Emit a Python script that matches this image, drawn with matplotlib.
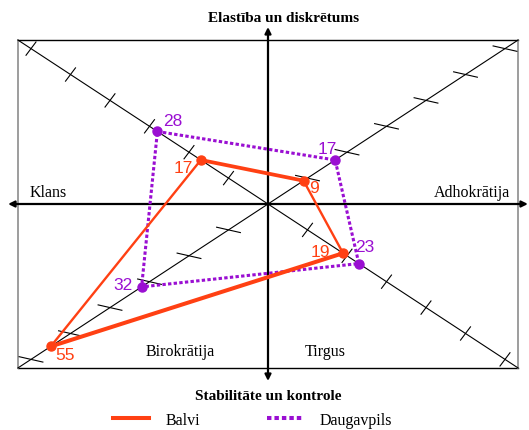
import numpy as np
import matplotlib
matplotlib.use("Agg")
import matplotlib.pyplot as plt
from matplotlib.lines import Line2D

# --- data ---
quadrants = ["Klans", "Adhokrātija", "Tirgus", "Birokrātija"]
balvi = [17, 9, 19, 55]
daugavpils = [28, 17, 23, 32]
scale_ticks = [10, 20, 30, 40, 50, 60]

title_top = "Elastība un diskrētums"
title_bottom = "Stabilitāte un kontrole"

# --- geometry (data units, 1 unit = 1 score point along x) ---
half_w, half_h = 63.3, 41.5
r = half_h / half_w
# direction of each quadrant's diagonal: clan UL, adhocracy UR, market LR, hierarchy LL
dirs = np.array([[-1, r], [1, r], [1, -r], [-1, -r]])

orange = "#FF4013"
purple = "#9A0FD2"
serif = "Liberation Serif"
sans = "Liberation Sans"

px = 3.95  # pixels per unit
fig = plt.figure(figsize=(5.29, 4.31), dpi=100)
ax = fig.add_axes([0, 0, 1, 1])
ax.set_xlim(-268 / px, 261 / px)
ax.set_ylim(-226 / px, 205 / px)
ax.axis("off")

# frame: top/bottom black, sides grey
ax.plot([-half_w, half_w], [half_h, half_h], color="black", lw=1.0)
ax.plot([-half_w, half_w], [-half_h, -half_h], color="black", lw=1.0)
ax.plot([-half_w, -half_w], [-half_h, half_h], color="#8c8c8c", lw=1.2)
ax.plot([half_w, half_w], [-half_h, half_h], color="#8c8c8c", lw=1.2)

# diagonals
ax.plot([-half_w, half_w], [-half_h, half_h], color="black", lw=0.8)
ax.plot([-half_w, half_w], [half_h, -half_h], color="black", lw=0.8)

# tick marks along the diagonals
for i, d in enumerate(dirs):
    if i in (0, 2):
        t = np.array([0.6, 0.8]) * 2.1
    else:
        t = np.array([0.97, -0.22]) * 3.1
    for v in scale_ticks:
        c = d * v
        ax.plot([c[0] - t[0], c[0] + t[0]], [c[1] - t[1], c[1] + t[1]],
                color="black", lw=0.8)

# main axes with arrows
arrow = dict(arrowstyle="<|-|>", lw=1.6, color="black",
             mutation_scale=9, shrinkA=0, shrinkB=0)
ax.annotate("", xy=(65.8, 0), xytext=(-65.8, 0), arrowprops=arrow)
ax.annotate("", xy=(0, 44.8), xytext=(0, -44.8), arrowprops=arrow)

# titles and quadrant names
ax.text(3.9, 47.3, title_top, ha="center", va="center", fontsize=11,
        fontweight="bold", family=serif)
ax.text(0, -48.4, title_bottom, ha="center", va="center", fontsize=11,
        fontweight="bold", family=serif)
ax.text(-60.3, 3.0, quadrants[0], ha="left", va="center", fontsize=11.5, family=serif)
ax.text(61.3, 3.0, quadrants[1], ha="right", va="center", fontsize=11.5, family=serif)
ax.text(14.4, -37.2, quadrants[2], ha="center", va="center", fontsize=11.5, family=serif)
ax.text(-22.3, -37.2, quadrants[3], ha="center", va="center", fontsize=11.5, family=serif)

# profiles
bx = [d[0] * v for d, v in zip(dirs, balvi)]
by = [d[1] * v for d, v in zip(dirs, balvi)]
dx = [d[0] * v for d, v in zip(dirs, daugavpils)]
dy = [d[1] * v for d, v in zip(dirs, daugavpils)]

seg_lw = [2.7, 1.7, 2.9, 1.7]
for k in range(4):
    j = (k + 1) % 4
    ax.plot([bx[k], bx[j]], [by[k], by[j]], color=orange, lw=seg_lw[k],
            solid_capstyle="round", zorder=4)
ax.plot(bx, by, "o", color=orange, ms=6.5, zorder=5)

ax.plot(dx + dx[:1], dy + dy[:1], color=purple, lw=2.2,
        linestyle=(0, (1.1, 0.75)), dash_capstyle="butt", zorder=3)
ax.plot(dx, dy, "o", color=purple, ms=6.5, zorder=5)

# value labels (pixel offsets from points)
b_off = [(-18, -8), (10, -7), (-23, 2), (14, -8)]
d_off = [(15, 11), (-8, 11), (6, 17), (-19, 2)]
for x, y, v, o in zip(bx, by, balvi, b_off):
    ax.annotate(str(v), (x, y), xytext=o, textcoords="offset pixels",
                ha="center", va="center", color=orange, fontsize=12.5, family=sans)
for x, y, v, o in zip(dx, dy, daugavpils, d_off):
    ax.annotate(str(v), (x, y), xytext=o, textcoords="offset pixels",
                ha="center", va="center", color=purple, fontsize=12.5, family=sans)

# legend
handles = [Line2D([], [], color=orange, lw=2.9),
           Line2D([], [], color=purple, lw=2.9, linestyle=(0, (1.1, 0.75)))]
fig.legend(handles, ["Balvi", "Daugavpils"], loc="center",
           bbox_to_anchor=(0.477, 0.024), ncol=2, frameon=False,
           handlelength=2.3, handletextpad=1.0, columnspacing=4.2,
           borderpad=0.1, prop={"family": serif, "size": 11.5})

fig.savefig("out.png", dpi=100)
